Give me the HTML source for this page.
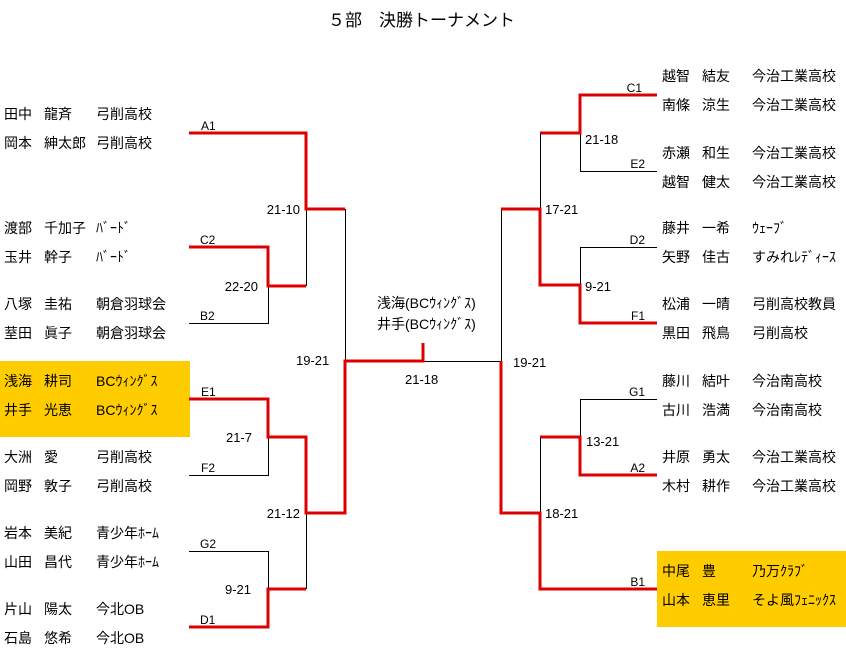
<!DOCTYPE html>
<html><head><meta charset="utf-8"><style>
html,body{margin:0;padding:0;background:#fff;}
svg{display:block;}
text{font-family:"Liberation Sans","Noto Sans CJK JP","IPAGothic",sans-serif;fill:#000;}
.n{font-size:14px;}
.l{font-size:12px;}
.s{font-size:13px;}
</style></head><body>
<svg width="846" height="666" xmlns="http://www.w3.org/2000/svg">
<rect x="0" y="0" width="846" height="666" fill="#fff"/>
<rect x="0" y="361" width="190" height="76" fill="#FFCC00"/>
<rect x="657" y="551" width="189" height="76" fill="#FFCC00"/>
<text x="328" y="26" style="font-size:17px">５部　決勝トーナメント</text>

<!-- black lines -->
<g stroke="#000" stroke-width="1" fill="none">
<path d="M345.5 209 V361"/>
<path d="M306.5 209 V286"/>
<path d="M189 323.5 H268.5 V286"/>
<path d="M189 475.5 H268.5 V437"/>
<path d="M189 551.5 H268.5 V589"/>
<path d="M306.5 513 V589"/>
<path d="M423 361.5 H501.5 V209"/>
<path d="M540.5 133 V209"/>
<path d="M657 171.5 H580.5 V133"/>
<path d="M657 247.5 H580.5 V285"/>
<path d="M657 399.5 H580.5 V437"/>
<path d="M540.5 437 V513"/>
</g>
<!-- red lines -->
<g stroke="#DD0000" stroke-width="3" fill="none" stroke-linejoin="miter">
<path d="M189 133 H306 V209 H345"/>
<path d="M189 247 H268 V286 H306"/>
<path d="M189 399 H268 V437 H306 V513 H345 V361 H423 V343"/>
<path d="M189 627 H268 V589 H306"/>
<path d="M501 361 V513 H540 V589 H657"/>
<path d="M501 209 H540 V285 H580 V323 H657"/>
<path d="M540 133 H580 V95 H657"/>
<path d="M540 437 H580 V475 H657"/>
</g>

<!-- left names -->
<g class="n">
<text x="4" y="119">田中</text><text x="44" y="119">龍斉</text><text x="96" y="119">弓削高校</text>
<text x="4" y="148">岡本</text><text x="44" y="148">紳太郎</text><text x="96" y="148">弓削高校</text>
<text x="4" y="233">渡部</text><text x="44" y="233">千加子</text><text x="96" y="233">ﾊﾞｰﾄﾞ</text>
<text x="4" y="262">玉井</text><text x="44" y="262">幹子</text><text x="96" y="262">ﾊﾞｰﾄﾞ</text>
<text x="4" y="309">八塚</text><text x="44" y="309">圭祐</text><text x="96" y="309">朝倉羽球会</text>
<text x="4" y="338">荎田</text><text x="44" y="338">眞子</text><text x="96" y="338">朝倉羽球会</text>
<text x="4" y="386">浅海</text><text x="44" y="386">耕司</text><text x="96" y="386">BCｳｨﾝｸﾞｽ</text>
<text x="4" y="415">井手</text><text x="44" y="415">光恵</text><text x="96" y="415">BCｳｨﾝｸﾞｽ</text>
<text x="4" y="462">大洲</text><text x="44" y="462">愛</text><text x="96" y="462">弓削高校</text>
<text x="4" y="491">岡野</text><text x="44" y="491">敦子</text><text x="96" y="491">弓削高校</text>
<text x="4" y="538">岩本</text><text x="44" y="538">美紀</text><text x="96" y="538">青少年ﾎｰﾑ</text>
<text x="4" y="567">山田</text><text x="44" y="567">昌代</text><text x="96" y="567">青少年ﾎｰﾑ</text>
<text x="4" y="614">片山</text><text x="44" y="614">陽太</text><text x="96" y="614">今北OB</text>
<text x="4" y="643">石島</text><text x="44" y="643">悠希</text><text x="96" y="643">今北OB</text>
</g>
<!-- right names -->
<g class="n">
<text x="662" y="81">越智</text><text x="702" y="81">結友</text><text x="752" y="81">今治工業高校</text>
<text x="662" y="110">南條</text><text x="702" y="110">涼生</text><text x="752" y="110">今治工業高校</text>
<text x="662" y="158">赤瀬</text><text x="702" y="158">和生</text><text x="752" y="158">今治工業高校</text>
<text x="662" y="187">越智</text><text x="702" y="187">健太</text><text x="752" y="187">今治工業高校</text>
<text x="662" y="233">藤井</text><text x="702" y="233">一希</text><text x="752" y="233">ｳｪｰﾌﾞ</text>
<text x="662" y="262">矢野</text><text x="702" y="262">佳古</text><text x="752" y="262">すみれﾚﾃﾞｨｰｽ</text>
<text x="662" y="309">松浦</text><text x="702" y="309">一晴</text><text x="752" y="309">弓削高校教員</text>
<text x="662" y="338">黒田</text><text x="702" y="338">飛鳥</text><text x="752" y="338">弓削高校</text>
<text x="662" y="386">藤川</text><text x="702" y="386">結叶</text><text x="752" y="386">今治南高校</text>
<text x="662" y="415">古川</text><text x="702" y="415">浩満</text><text x="752" y="415">今治南高校</text>
<text x="662" y="462">井原</text><text x="702" y="462">勇太</text><text x="752" y="462">今治工業高校</text>
<text x="662" y="491">木村</text><text x="702" y="491">耕作</text><text x="752" y="491">今治工業高校</text>
<text x="662" y="576">中尾</text><text x="702" y="576">豊</text><text x="752" y="576">乃万ｸﾗﾌﾞ</text>
<text x="662" y="605">山本</text><text x="702" y="605">恵里</text><text x="752" y="605">そよ風ﾌｪﾆｯｸｽ</text>
</g>

<!-- slot labels -->
<g class="l">
<text x="201" y="130">A1</text>
<text x="200" y="244">C2</text>
<text x="200" y="320">B2</text>
<text x="201" y="396">E1</text>
<text x="201" y="472">F2</text>
<text x="200" y="548">G2</text>
<text x="200" y="624">D1</text>
<text x="642" y="92" text-anchor="end">C1</text>
<text x="645" y="168" text-anchor="end">E2</text>
<text x="645" y="244" text-anchor="end">D2</text>
<text x="645" y="320" text-anchor="end">F1</text>
<text x="645" y="396" text-anchor="end">G1</text>
<text x="645" y="472" text-anchor="end">A2</text>
<text x="645" y="586" text-anchor="end">B1</text>
</g>

<!-- scores -->
<g class="s">
<text x="300" y="214" text-anchor="end">21-10</text>
<text x="258" y="291" text-anchor="end">22-20</text>
<text x="296" y="365">19-21</text>
<text x="252" y="442" text-anchor="end">21-7</text>
<text x="300" y="518" text-anchor="end">21-12</text>
<text x="251" y="594" text-anchor="end">9-21</text>
<text x="405" y="384">21-18</text>
<text x="513" y="367">19-21</text>
<text x="585" y="144">21-18</text>
<text x="545" y="214">17-21</text>
<text x="585" y="291">9-21</text>
<text x="586" y="446">13-21</text>
<text x="545" y="518">18-21</text>
</g>
<text class="n" x="377" y="308">浅海(BCｳｨﾝｸﾞｽ)</text>
<text class="n" x="377" y="329">井手(BCｳｨﾝｸﾞｽ)</text>
</svg>
</body></html>
